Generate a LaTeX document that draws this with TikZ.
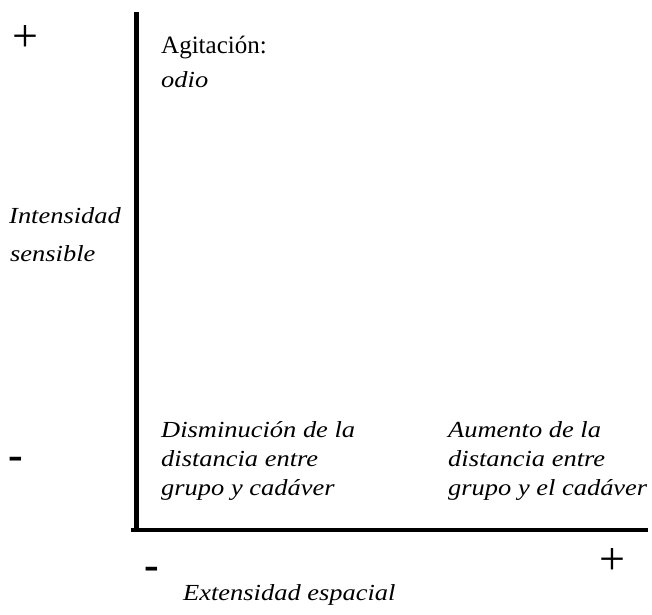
\documentclass[tikz,border=0pt]{standalone}
\usepackage{fontspec}
\setmainfont{Liberation Serif}[ItalicFeatures={FakeStretch=1.15}]

\begin{document}
\begin{tikzpicture}[x=1pt,y=-1pt,
  lbl/.style={inner sep=0pt,anchor=base west,align=left,
    font=\fontsize{23}{29}\selectfont\itshape},
  sgn/.style={inner sep=0pt,font=\fontsize{46}{46}\selectfont},
  dsh/.style={inner sep=0pt,font=\fontsize{44}{44}\selectfont\bfseries}]
  \useasboundingbox (0,0) rectangle (652,614);
  % axes
  \coordinate (top) at (136,12);
  \coordinate (corner) at (136,529.5);
  \coordinate (right) at (648,529.5);
  \draw[line width=5pt] (top) -- (corner);
  \draw[line width=4pt] (corner) ++(-5,0) -- (right);

  % signs
  \node[sgn] (plusy) at (25,39) {+};
  \node[dsh] (minusy) at (16,463) {-};
  \node[dsh] (minusx) at (152,573) {-};
  \node[sgn] (plusx) at (612,561) {+};

  % labels (base = last line)
  \node[inner sep=0pt,anchor=base west,font=\fontsize{25}{34}\selectfont]
    (agit) at (161,53) {Agitación:};
  \node[lbl] (odio) at (161,87) {odio};
  \node[lbl] (inten) at (9,223) {Intensidad};
  \node[lbl] (sens) at (10,261) {sensible};
  \node[lbl] (dism) at (161,495) {Disminución de la\\distancia entre\\grupo y cadáver};
  \node[lbl] (aum) at (448,495) {Aumento de la\\distancia entre\\grupo y el cadáver};
  \node[lbl] (ext) at (183,600) {Extensidad espacial};
\end{tikzpicture}
\end{document}
